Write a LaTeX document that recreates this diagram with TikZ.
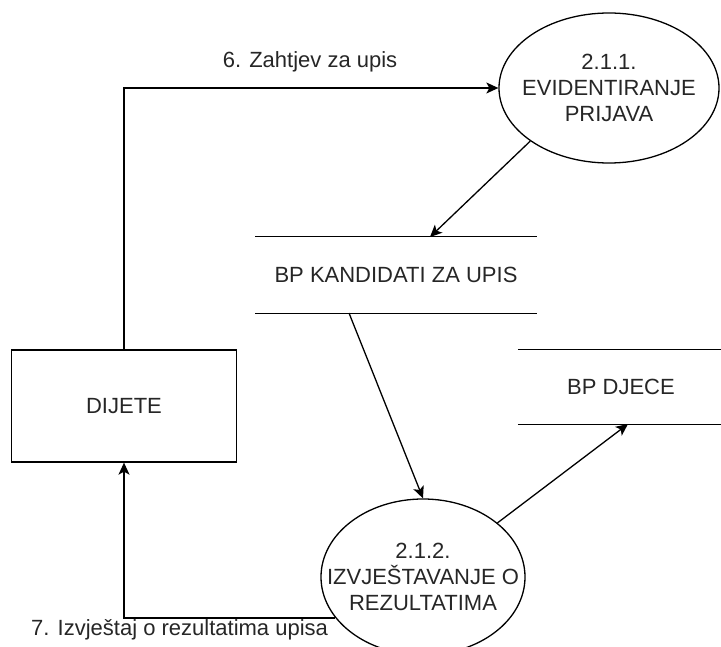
\documentclass[tikz,border=0pt]{standalone}
\usepackage{fontspec}
\setmainfont{Liberation Sans}
\usetikzlibrary{shapes.geometric,arrows.meta}
\begin{document}
\begin{tikzpicture}[x=1pt,y=-1pt,
  every node/.style={font=\fontsize{22}{26}\selectfont, text=black!85},
  line/.style={draw=black, line width=1.3pt},
  arr/.style={line, -{Stealth[length=12pt,width=11pt,inset=3pt]}},
  proc/.style={ellipse, draw, line width=1.3pt, inner sep=0pt},
  ptext/.style={align=center, inner sep=0pt},
  store/.style={inner sep=0pt},
  ent/.style={draw, line width=1.3pt, inner sep=0pt, minimum width=225pt, minimum height=112pt}
]
\useasboundingbox (0,0) rectangle (721,647);
\node[proc, minimum width=220pt, minimum height=150pt] (e1) at (609,88) {};
\node[ptext] (e1t) at (e1.center) {2.1.1.\\EVIDENTIRANJE\\PRIJAVA};
\node[proc, minimum width=204pt, minimum height=156pt] (e2) at (423,577) {};
\node[ptext] (e2t) at (423,577) {2.1.2.\\IZVJEŠTAVANJE O\\REZULTATIMA};
\node[ent] (d) at (124,406) {DIJETE};
\node[store, minimum width=281pt, minimum height=76pt] (s1) at (396,275) {BP KANDIDATI ZA UPIS};
\draw[line] (s1.north west) -- (s1.north east) (s1.south west) -- (s1.south east);
\node[store, minimum width=206pt, minimum height=75pt] (s2) at (621,387) {BP DJECE};
\draw[line] (s2.north west) -- (s2.north east) (s2.south west) -- (s2.south east);
\coordinate (s1in) at (430,237);
\coordinate (s2in) at (628,424);
\coordinate (s1out) at (349,313);
\draw[arr] (d.north) |- (e1.west);
\node (l6) at (310,62) {6. Zahtjev za upis};
\draw[arr] (e1.214) -- (s1in);
\draw[arr] (s1out) -- (e2.north);
\draw[arr] (e2.36) -- (s2in);
\draw[arr] (e2.205) -| (d.south);
\node[anchor=west, inner sep=0pt] (l7) at (31,630) {7. Izvještaj o rezultatima upisa};
\end{tikzpicture}
\end{document}
